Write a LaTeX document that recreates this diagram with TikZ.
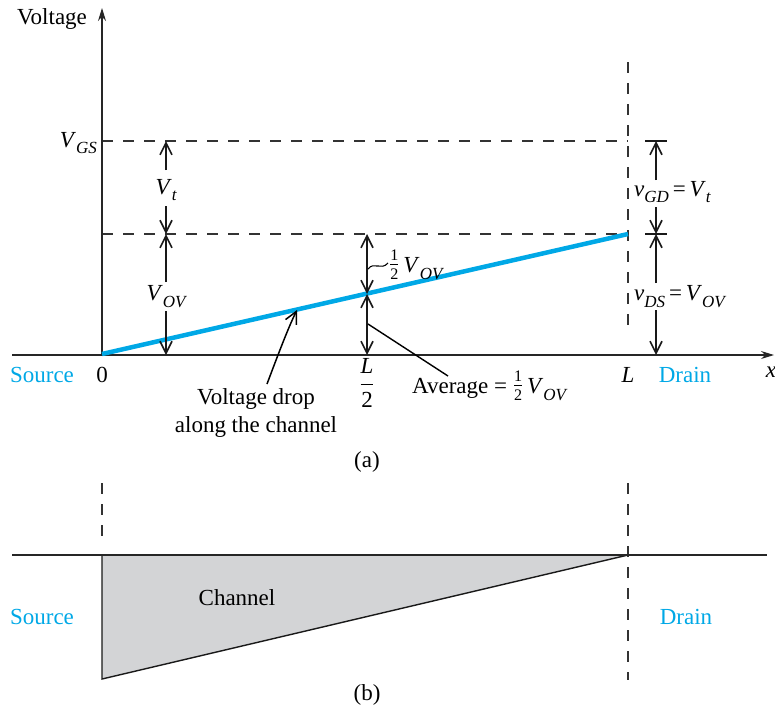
\documentclass[tikz,border=0pt]{standalone}
\usepackage{amsmath}
\usepackage{fontspec}
\setmainfont{Liberation Serif}
\usetikzlibrary{arrows.meta}
\definecolor{chblue}{RGB}{0,168,230}
\definecolor{chgray}{RGB}{211,212,214}
\newcommand\SB[1]{\raisebox{-0.3em}{\fontsize{17}{17}\selectfont\itshape #1}}
\newcommand\half{\raisebox{0.1em}{$\frac{\text{1}}{\text{2}}$}}
\tikzset{
  ax/.style={line width=1.2pt, black!85},
  dim/.style={line width=1.6pt, black!90},
  dsh/.style={line width=1.1pt, dash pattern=on 11pt off 10pt, black!80},
  lbl/.style={font=\fontsize{23}{28}\selectfont, inner sep=0pt},
  >={Straight Barb[length=12pt,width=12pt]},
  axtip/.style={-{Stealth[length=13pt,width=8pt]}}
}
\begin{document}
\begin{tikzpicture}[x=1pt,y=-1pt]
\useasboundingbox (0,0) rectangle (775,713);
% ---------- part (a) ----------
\coordinate (O) at (102,355);
\coordinate (ytop) at (102,8);
\coordinate (xl) at (12,355);
\coordinate (xr) at (774,355);
\coordinate (g0) at (102,141);
\coordinate (g1) at (628,141);
\coordinate (t0) at (102,234);
\coordinate (t1) at (628,234);
\coordinate (dT) at (628,62);
\coordinate (dB) at (628,325);
\draw[dsh] (g0) -- (g1);
\draw[dsh] (t0) -- (t1);
\draw[dsh] (dT) -- (dB);
\draw[ax,axtip] (O) -- (ytop);
\draw[ax,axtip] (xl) -- (xr);
\draw[chblue, line width=4.5pt] (102,354) -- (t1);

% left dimension arrows
\coordinate (a1) at (166,141);
\coordinate (a2) at (166,234);
\coordinate (a3) at (166,355);
\coordinate (vtA) at (166,170);
\coordinate (vtB) at (166,206);
\coordinate (vovA) at (166,282);
\coordinate (vovB) at (166,311);
\draw[dim,->] (vtA) -- (a1);
\draw[dim,->] (vtB) -- (a2);
\draw[dim,->] (vovA) -- (a2);
\draw[dim,->] (vovB) -- (a3);
\node[lbl] (vtl) at (166,190) {\textit{V}\SB{t}};
\node[lbl] (vov) at (166,297) {\textit{V}\SB{OV}};

% middle arrows
\coordinate (m1) at (367,234);
\coordinate (m2) at (367,294);
\coordinate (m3) at (367,355);
\draw[dim,<->] (m1) -- (m2);
\draw[dim,<->] (m2) -- (m3);
\coordinate (tl0) at (368,269);
\coordinate (tl1) at (388,263);
\draw[line width=1.1pt] (tl0) .. controls (374,261) and (381,271) .. (tl1);
\node[lbl, anchor=west] (hv) at (389,265) {\half\,\textit{V}\SB{OV}};
\coordinate (avA) at (368,324);
\coordinate (avB) at (448,376);
\draw[line width=1.4pt] (avA) -- (avB);
\node[lbl, anchor=west] (avg) at (412,386) {Average = \half\,\textit{V}\SB{OV}};

% right arrows
\coordinate (r1) at (656,141);
\coordinate (r2) at (656,234);
\coordinate (r3) at (656,355);
\coordinate (rgA) at (656,180);
\coordinate (rgB) at (656,207);
\coordinate (rdA) at (656,283);
\coordinate (rdB) at (656,310);
\draw[dim] (645,141) -- (667,141);
\draw[dim] (645,234) -- (667,234);
\draw[dim,->] (rgA) -- (r1);
\draw[dim,->] (rgB) -- (r2);
\draw[dim,->] (rdA) -- (r2);
\draw[dim,->] (rdB) -- (r3);
\node[lbl, anchor=west] (vgd) at (634,192) {\textit{v}\SB{GD}\,=\,\textit{V}\SB{t}};
\node[lbl, anchor=west] (vds) at (634,297) {\textit{v}\SB{DS}\,=\,\textit{V}\SB{OV}};

% voltage drop arrow
\coordinate (vdA) at (267,384);
\coordinate (vdB) at (297,310);
\draw[line width=1.5pt,->] (vdA) .. controls (279,352) and (289,326) .. (vdB);
\node[lbl, align=center] (vdrop) at (256,413) {Voltage drop\\along the channel};

% axis labels
\node[lbl] (volt) at (52,19) {Voltage};
\node[lbl, anchor=east] (vgs) at (97,143) {\textit{V}\SB{GS}};
\node[lbl, chblue] (src) at (42,375) {Source};
\node[lbl] (zero) at (102,375) {0};
\node[lbl] (lhalf) at (367,383) {$\dfrac{\textit{L}}{\text{2}}$};
\node[lbl] (ll) at (628,375) {\textit{L}};
\node[lbl, chblue] (drn) at (685,375) {Drain};
\node[lbl] (xx) at (771,372) {\textit{x}};
\node[lbl] (capa) at (367,462) {(a)};

% ---------- part (b) ----------
\coordinate (bs0) at (102,483);
\coordinate (bs1) at (102,545);
\coordinate (bd0) at (628,483);
\coordinate (bd1) at (628,680);
\draw[dsh] (bs0) -- (bs1);
\draw[dsh] (bd0) -- (bd1);
\coordinate (p1) at (102,555);
\coordinate (p2) at (628,555);
\coordinate (p3) at (102,679);
\fill[chgray] (p1) -- (p2) -- (p3) -- cycle;
\draw[line width=1.4pt, black!90] (p2) -- (p3) -- (p1);
\coordinate (hl) at (12,555);
\coordinate (hr) at (767,555);
\draw[ax] (hl) -- (hr);
\node[lbl] (chan) at (237,598) {Channel};
\node[lbl, chblue] (src2) at (42,617) {Source};
\node[lbl, chblue] (drn2) at (686,617) {Drain};
\node[lbl] (capb) at (367,695) {(b)};
\end{tikzpicture}
\end{document}
